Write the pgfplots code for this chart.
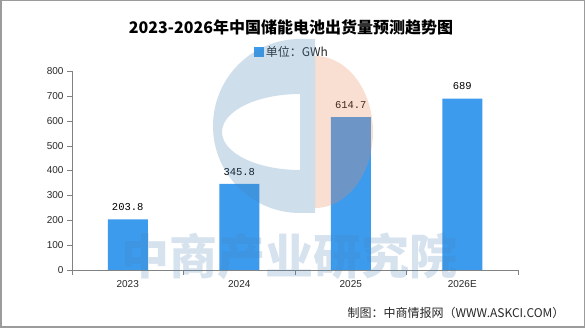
\documentclass[border=0pt]{standalone}
\usepackage{fontspec}
\setmainfont{Liberation Sans}
\newfontfamily\cjk{Noto Sans CJK SC}
\newfontfamily\mono{Liberation Mono}
\usepackage{pgfplots}
\pgfplotsset{compat=1.18}
\usepackage{pgfplotstable}
\definecolor{barblue}{RGB}{61,155,238}
\definecolor{wmblue}{RGB}{70,130,180}
\definecolor{wmsalmon}{RGB}{235,140,95}
\definecolor{axgray}{RGB}{130,130,130}
\definecolor{txt}{RGB}{40,40,40}
\pgfplotstableread{
x y label
0 203.8 203.8
1 345.8 345.8
2 614.7 614.7
3 689 689
}\datatable
\begin{document}
\begin{tikzpicture}[x=1pt,y=1pt]
\path[use as bounding box] (0,0) rectangle (585,328);
\fill[white] (0,0) rectangle (585,328);
\draw[color=axgray!80, line width=1.5pt] (0.75,0.75) rectangle (584.25,327.25);
\node[font=\cjk\bfseries\fontsize{16}{18}\selectfont, text=black] at (291,301) {2023-2026年中国储能电池出货量预测趋势图};
\begin{axis}[
  at={(72pt,58pt)}, anchor=south west,
  width=446pt, height=199pt, scale only axis,
  xmin=-0.5, xmax=3.5, ymin=0, ymax=800,
  axis x line=bottom, axis y line=left,
  axis line style={-, draw=axgray},
  tick align=outside,
  major tick length=5pt,
  tick style={draw=axgray},
  ytick={0,100,...,800},
  xtick={-0.5,0.5,1.5,2.5,3.5},
  xticklabels={},
  extra x ticks={0,1,2,3},
  extra x tick labels={2023,2024,2025,2026E},
  extra x tick style={major tick length=0pt, tick style={draw=none}},
  /pgf/number format/assume math mode=true,
  ticklabel style={font=\fontsize{10}{12}\selectfont, text=txt},
  xticklabel style={yshift=-7pt},
  legend style={at={(0.493,1.095)}, anchor=center, draw=none, fill=none,
    font=\cjk\fontsize{12}{14}\selectfont, text=txt, inner sep=0pt,
    legend cell align=left},
  clip=false,
]
\addplot[ybar, bar width=40pt, fill=barblue, draw=none,
  point meta=explicit symbolic,
  nodes near coords,
  every node near coord/.append style={anchor=south, yshift=5pt, font=\mono\fontsize{10.5}{12}\selectfont, text=black},
  legend image code/.code={\fill[barblue] (0pt,-5pt) rectangle (10pt,5pt);}
] table[x=x, y=y, meta=label] {\datatable};
\addlegendentry{单位：GWh}
\end{axis}
% watermark logo
\fill[wmblue, opacity=0.26, even odd rule]
  (315,289) -- (300,289) arc[start angle=90, end angle=270, radius=87] -- (315,115) -- cycle
  (300,234) arc[start angle=90, end angle=270, x radius=78, y radius=38] -- cycle;
\fill[wmsalmon, opacity=0.28] (315,272) arc[start angle=90, end angle=-90, x radius=58, y radius=76] -- cycle;
\node[font=\cjk\bfseries\fontsize{48}{52}\selectfont, text=wmblue, opacity=0.22] at (289,72) {中商产业研究院};
\node[anchor=east, font=\cjk\fontsize{12}{14}\selectfont, text=txt] at (568,15) {制图：中商情报网（WWW.ASKCI.COM）};
\end{tikzpicture}
\end{document}
